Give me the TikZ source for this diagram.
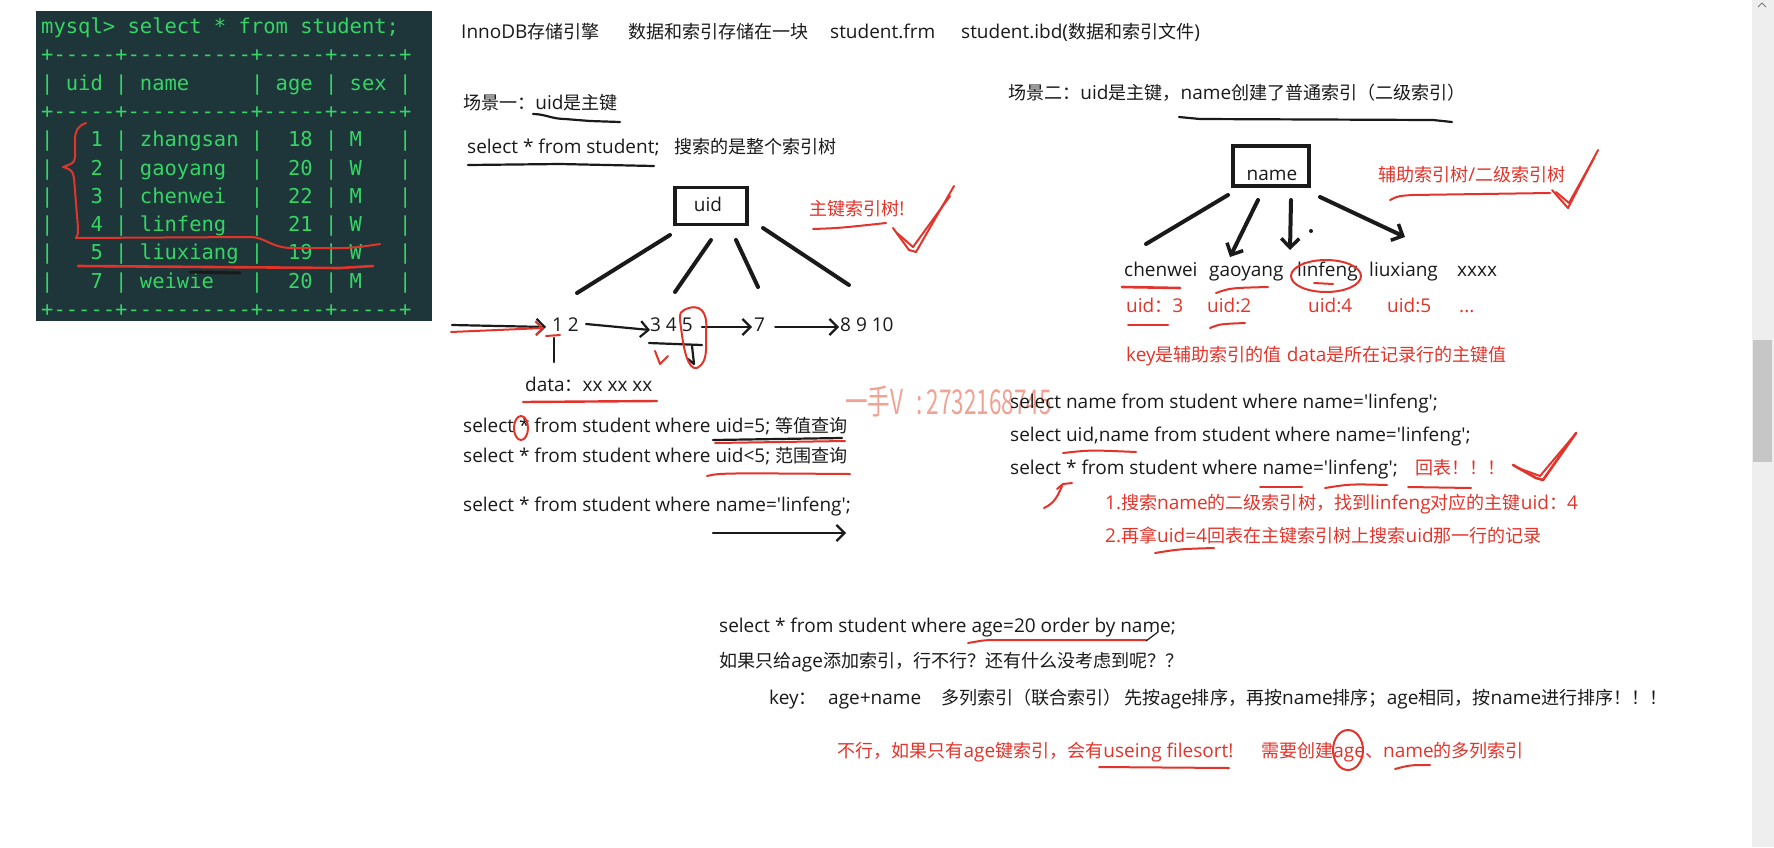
\documentclass[tikz,border=0pt]{standalone}
\usepackage{fontspec}
\setmainfont{Open Sans}
\setmonofont{DejaVu Sans Mono}
\newfontfamily\cjkfont{Noto Sans CJK SC}[Scale=0.95]
\newcommand\zh[1]{{\cjkfont #1}}
\newcommand\sq{\XeTeXglyph\XeTeXcharglyph"27\relax}
\usetikzlibrary{arrows.meta}
\definecolor{termbg}{HTML}{1E3639}
\definecolor{termfg}{HTML}{35D465}
\definecolor{pen}{HTML}{E3342B}
\definecolor{wm}{HTML}{F0A294}
\definecolor{ink}{HTML}{1A1A1A}
\definecolor{track}{HTML}{EEEEEE}
\definecolor{thumb}{HTML}{C6C6C6}
\begin{document}
\begin{tikzpicture}[x=1pt,y=-1pt,
  txt/.style={anchor=west,inner sep=0pt,text=ink,font=\fontsize{19}{22}\selectfont,text height=13pt,text depth=4pt},
  rtxt/.style={txt,text=pen},
  term/.style={anchor=base west,inner sep=0pt,text=termfg,font=\ttfamily\fontsize{20.5}{24}\selectfont},
  boxnode/.style={draw=ink,line width=3.5pt,inner sep=0pt},
  tline/.style={draw=ink,line width=4pt,line cap=round},
  inkline/.style={draw=ink,line width=2.2pt,line cap=round,line join=round},
  hand/.style={draw=pen,line width=2pt,line cap=round,line join=round},
  arr/.style={inkline,-{Straight Barb[length=8pt,width=16pt,line width=2.2pt]}},
  tarr/.style={tline,-{Straight Barb[length=9pt,width=18pt,line width=3.5pt]}},
]
\useasboundingbox (0,0) rectangle (1774,847);
\fill[white] (0,0) rectangle (1774,847);

% ---------- terminal ----------
\fill[termbg] (36,11) rectangle (432,321);
\node[term] (t0) at (41,33) {mysql>~select~*~from~student;};
\node[term] (t1) at (41,61) {+-----+----------+-----+-----+};
\node[term] (t2) at (41,90) {|~uid~|~name~~~~~|~age~|~sex~|};
\node[term] (t3) at (41,118) {+-----+----------+-----+-----+};
\node[term] (t4) at (41,146) {|~~~1~|~zhangsan~|~~18~|~M~~~|};
\node[term] (t5) at (41,175) {|~~~2~|~gaoyang~~|~~20~|~W~~~|};
\node[term] (t6) at (41,203) {|~~~3~|~chenwei~~|~~22~|~M~~~|};
\node[term] (t7) at (41,231) {|~~~4~|~linfeng~~|~~21~|~W~~~|};
\node[term] (t8) at (41,259) {|~~~5~|~liuxiang~|~~19~|~W~~~|};
\node[term] (t9) at (41,288) {|~~~7~|~weiwie~~~|~~20~|~M~~~|};
\node[term] (t10) at (41,316) {+-----+----------+-----+-----+};
\draw[hand] (86,123) .. controls (77,126) and (75,132) .. (75,140) -- (75,157)
  .. controls (74,163) .. (63,167) .. controls (72,170) .. (74,178) -- (78,228)
  .. controls (78,234) .. (76,238);
\draw[hand] (76,238) -- (250,237) .. controls (265,237) and (270,247) .. (290,248)
  -- (345,248) .. controls (360,247) .. (380,244);
\draw[ink,line width=3pt,line cap=round] (190,272) -- (240,273);
\draw[hand,line width=2.6pt] (78,266) -- (340,268) -- (373,266);

% ---------- header ----------
\node[txt] (h1) at (461,34) {InnoDB\zh{存储引擎}};
\node[txt] (h2) at (628,34) {\zh{数据和索引存储在一块}};
\node[txt] (h3) at (830,34) {student.frm};
\node[txt] (h4) at (961,34) {student.ibd(\zh{数据和索引文件})};

% ---------- scene 1 ----------
\node[txt] (s1) at (463,105) {\zh{场景一：}uid\zh{是主键}};
\draw[inkline] (533,114) .. controls (545,114) and (552,119) .. (565,119) -- (590,121) -- (620,122);
\node[txt] (s1q) at (467,149) {select * from student;};
\node[txt] (s1d) at (674,149) {\zh{搜索的是整个索引树}};
\draw[inkline] (468,165) -- (560,164) -- (654,166);

\node[boxnode,minimum width=72pt,minimum height=37pt] (uid) at (711,206) {};
\node[txt,anchor=center] (uidt) at (708,207) {uid};
\node[rtxt] (pk) at (809,211) {\zh{主键索引树}!};
\draw[hand] (813,229) .. controls (840,228) .. (886,223);
\draw[hand] (893,228) -- (909,250) -- (916,252) -- (954,186);
\draw[hand] (897,233) -- (913,247) -- (950,196);

\node[txt] (n12) at (552,327) {1 2};
\node[txt] (n345) at (650,327) {3 4 5};
\node[txt] (n7) at (754,327) {7};
\node[txt] (n8) at (840,327) {8 9 10};
\coordinate (u1) at (670,235); \coordinate (l1) at (577,293);
\coordinate (u2) at (711,240); \coordinate (l2) at (675,292);
\coordinate (u3) at (736,240); \coordinate (l3) at (758,287);
\coordinate (u4) at (763,228); \coordinate (l4) at (849,285);
\draw[tline] (u1) -- (l1);
\draw[tline] (u2) -- (l2);
\draw[tline] (u3) -- (l3);
\draw[tline] (u4) -- (l4);

\coordinate (in0) at (452,325);
\coordinate (in1) at (451,332);
\draw[arr] (in0) -- ([xshift=-6pt]n12.west);
\draw[hand,-{Straight Barb[length=7pt,width=14pt,line width=2pt]}] (in1) -- ([xshift=-8pt,yshift=-1pt]n12.west);
\draw[arr] ([xshift=7pt,yshift=3pt]n12.east) -- ([yshift=-3pt]n345.west);
\draw[arr] ([xshift=9pt]n345.east) -- ([xshift=-2pt]n7.west);
\draw[arr] ([xshift=10pt]n7.east) -- ([xshift=-1pt]n8.west);

\draw[inkline] (554,338) -- (554,362);
\draw[hand] (546,336) -- (560,335);
\draw[inkline] (649,343) -- (702,345);
\draw[inkline] (692,346) -- (694,364) -- (688,359);
\draw[hand] (684,310) .. controls (700,302) and (708,312) .. (706,330)
  .. controls (706,350) and (708,362) .. (697,368)
  .. controls (688,370) and (684,350) .. (682,335)
  .. controls (680,320) and (678,312) .. (684,310);
\draw[hand] (655,351) -- (660,364) -- (668,356);

\node[txt] (data) at (525,387) {data\zh{：}xx xx xx};
\draw[hand,line width=2.4pt] (523,402) -- (657,401);

% watermark
\node[anchor=west,inner sep=0pt,text=wm] (wm) at (845,401) {\scalebox{0.66}[1]{\cjkfont\fontsize{36}{38}\selectfont 一手V\hspace{0.6em}:\hspace{0.15em}2732168745}};

\node[txt] (q1) at (463,428) {select * from student where uid=5; \zh{等值查询}};
\draw[hand] (521,428) ellipse (7 and 12);
\draw[inkline] (713,440) -- (842,438);
\draw[hand] (715,443) -- (845,441);
\node[txt] (q2) at (463,458) {select * from student where uid<5; \zh{范围查询}};
\draw[hand] (707,476) .. controls (720,473) .. (850,474);
\node[txt] (q3) at (463,507) {select * from student where name=\sq linfeng\sq;};
\coordinate (qa0) at (713,533);
\coordinate (qa1) at (846,533);
\draw[arr] (qa0) -- (qa1);

% ---------- scene 2 ----------
\node[txt] (s2) at (1008,95) {\zh{场景二：}uid\zh{是主键，}name\zh{创建了普通索引（二级索引）}};
\draw[inkline] (1179,117) .. controls (1190,118) .. (1200,119) -- (1433,120) -- (1452,122);

\node[boxnode,minimum width=76pt,minimum height=40pt] (namebox) at (1271,166) {};
\node[txt,anchor=center] (namet) at (1272,176) {name};
\node[rtxt] (aux) at (1378,177) {\zh{辅助索引树}/\zh{二级索引树}};
\draw[hand] (1390,200) .. controls (1398,196) .. (1412,195) -- (1550,193);
\draw[hand] (1552,190) -- (1568,208) -- (1598,150);
\draw[hand] (1556,192) -- (1569,203) -- (1594,158);

\node[txt] (c1) at (1124,272) {chenwei};
\node[txt] (c2) at (1209,272) {gaoyang};
\node[txt] (c3) at (1297,272) {linfeng};
\node[txt] (c4) at (1369,272) {liuxiang};
\node[txt] (c5) at (1457,272) {xxxx};
\coordinate (v1) at (1228,195); \coordinate (w1) at (1146,244);
\coordinate (v2) at (1258,200); \coordinate (w2) at (1230,257);
\coordinate (v3) at (1291,200); \coordinate (w3) at (1290,250);
\coordinate (v4) at (1320,197); \coordinate (w4) at (1405,237);
\draw[tline] (v1) -- (w1);
\draw[tarr] (v2) -- (w2);
\draw[tarr] (v3) -- (w3);
\draw[tarr] (v4) -- (w4);
\fill[ink] (1311,231) circle (2);
\draw[hand] (1326,276) ellipse (35 and 16);

\node[rtxt] (d1) at (1126,308) {uid\zh{：}3};
\node[rtxt] (d2) at (1207,308) {uid:2};
\node[rtxt] (d3) at (1308,308) {uid:4};
\node[rtxt] (d4) at (1387,308) {uid:5};
\node[rtxt] (d5) at (1459,308) {...};
\draw[hand,line width=2.6pt] (1122,287) -- (1180,288);
\draw[hand] (1216,293) .. controls (1230,288) .. (1268,287);
\draw[hand] (1314,283) -- (1333,284);
\draw[hand] (1128,325) -- (1168,325);
\draw[hand] (1210,328) .. controls (1220,324) .. (1245,323);

\node[rtxt] (keyl) at (1126,357) {key\zh{是辅助索引的值} data\zh{是所在记录行的主键值}};

\node[txt] (r1) at (1010,404) {select name from student where name=\sq linfeng\sq;};
\node[txt] (r2) at (1010,437) {select uid,name from student where name=\sq linfeng\sq;};
\draw[hand] (1063,453) .. controls (1090,450) .. (1136,452);
\node[txt] (r3) at (1010,470) {select * from student where name=\sq linfeng\sq;};
\node[rtxt] (hb) at (1415,470) {\zh{回表！！！}};
\draw[hand] (1260,487) -- (1302,487);
\draw[hand] (1325,488) .. controls (1350,484) .. (1387,485);
\draw[hand] (1408,487) -- (1471,488);
\draw[hand,line width=2.6pt] (1513,465) -- (1536,478) -- (1543,480) -- (1576,433);
\draw[hand] (1518,468) -- (1540,476) -- (1572,438);
\draw[hand] (1044,508) .. controls (1055,503) and (1058,495) .. (1062,486);
\draw[hand] (1057,489) -- (1063,484) -- (1072,483);

\node[rtxt] (e1) at (1105,505) {1.\zh{搜索}name\zh{的二级索引树，找到}linfeng\zh{对应的主键}uid\zh{：}4};
\node[rtxt] (e2) at (1105,538) {2.\zh{再拿}uid=4\zh{回表在主键索引树上搜索}uid\zh{那一行的记录}};
\draw[hand] (1155,553) .. controls (1180,549) .. (1214,548);

% ---------- bottom ----------
\node[txt] (b1) at (719,628) {select * from student where age=20 order by name;};
\draw[hand] (968,643) .. controls (985,640) .. (1000,640) -- (1146,640);
\draw[ink,line width=1.2pt] (1146,641) -- (1158,632);
\node[txt] (b2) at (719,663) {\zh{如果只给}age\zh{添加索引，行不行？还有什么没考虑到呢？？}};
\node[txt] (b3a) at (769,700) {key\zh{：}};
\node[txt] (b3b) at (828,700) {age+name};
\node[txt] (b3c) at (941,700) {\zh{多列索引（联合索引）}};
\node[txt] (b3d) at (1124,700) {\zh{先按}age\zh{排序，再按}name\zh{排序；}age\zh{相同，按}name\zh{进行排序！！！}};
\node[rtxt] (b4a) at (837,753) {\zh{不行，如果只有}age\zh{键索引，会有}useing filesort!};
\node[rtxt] (b4b) at (1261,753) {\zh{需要创建}age\zh{、}name\zh{的多列索引}};
\draw[hand] (1099,767) -- (1229,768);
\draw[hand] (1348,750) ellipse (15 and 20);
\draw[hand] (1395,769) .. controls (1410,765) .. (1430,765);

% ---------- scrollbar ----------
\fill[track] (1752,0) rectangle (1774,847);
\fill[thumb] (1753,340) rectangle (1772,462);
\draw[ink!60,line width=1pt] (1758,7) -- (1762,3) -- (1766,7);
\end{tikzpicture}
\end{document}
